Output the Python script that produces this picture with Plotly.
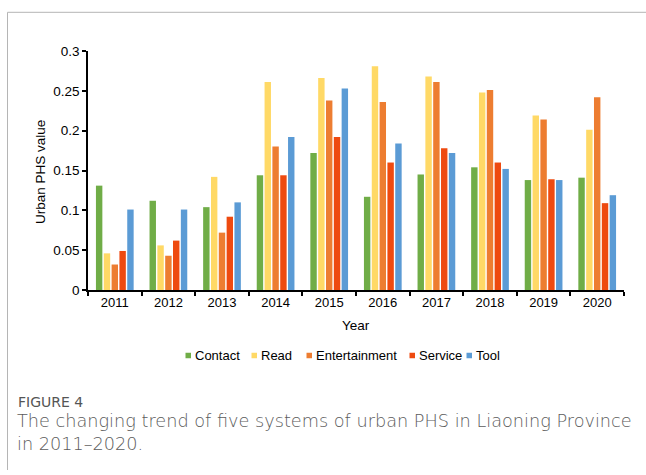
import plotly.graph_objects as go

# Years on the category axis
years = ["2011", "2012", "2013", "2014", "2015", "2016", "2017", "2018", "2019", "2020"]

# Urban PHS value of each system, per year
contact = [0.131, 0.112, 0.104, 0.144, 0.172, 0.117, 0.145, 0.154, 0.138, 0.141]
read = [0.046, 0.056, 0.142, 0.261, 0.266, 0.281, 0.268, 0.248, 0.219, 0.201]
entertainment = [0.032, 0.043, 0.072, 0.180, 0.238, 0.236, 0.261, 0.251, 0.214, 0.242]
service = [0.049, 0.062, 0.092, 0.144, 0.192, 0.160, 0.178, 0.160, 0.139, 0.109]
tool = [0.101, 0.101, 0.110, 0.192, 0.253, 0.184, 0.172, 0.152, 0.138, 0.119]

series_names = ["Contact", "Read", "Entertainment", "Service", "Tool"]
series_values = [contact, read, entertainment, service, tool]
series_colors = ["#70AD47", "#FFD966", "#ED7D31", "#EE4A10", "#5B9BD5"]

W, H = 646, 475
L, R, T, B = 88, 624, 51, 290


def px(x):
    return (x - L) / (R - L)


def py(y):
    return (B - y) / (B - T)


fig = go.Figure()
for name, vals, col in zip(series_names, series_values, series_colors):
    fig.add_trace(go.Bar(x=years, y=vals, name=name, marker_color=col,
                         marker_line_width=0, showlegend=False))

font_main = "Liberation Sans, Arial, sans-serif"
font_caption = "DejaVu Sans, Open Sans, sans-serif"
annotations = []
shapes = []

# Axis titles
annotations.append(dict(text="Urban PHS value", x=px(40), y=py(172), xref="paper", yref="paper",
                        textangle=-90, showarrow=False, xanchor="center", yanchor="middle",
                        font=dict(family=font_main, size=13.5, color="#000")))
annotations.append(dict(text="Year", x=px(356), y=py(325), xref="paper", yref="paper",
                        showarrow=False, xanchor="center", yanchor="middle",
                        font=dict(family=font_main, size=13.5, color="#000")))

# Legend: small squares followed by labels
legend_sq_x = [185.5, 251.5, 306.5, 409.5, 466.5]
leg_y = 355.5
for name, col, sx in zip(series_names, series_colors, legend_sq_x):
    shapes.append(dict(type="rect", xref="paper", yref="paper",
                       x0=px(sx), x1=px(sx + 5.5), y0=py(leg_y + 2.75), y1=py(leg_y - 2.75),
                       fillcolor=col, line=dict(width=0)))
    annotations.append(dict(text=name, x=px(sx + 7), y=py(leg_y), xref="paper", yref="paper",
                            showarrow=False, xanchor="left", yanchor="middle",
                            font=dict(family=font_main, size=13, color="#000")))

# Caption below the chart
annotations.append(dict(text="FIGURE 4", x=px(17), y=py(402), xref="paper", yref="paper",
                        showarrow=False, xanchor="left", yanchor="middle", borderpad=0,
                        font=dict(family=font_caption, size=14, color="#555555", weight=400)))
annotations.append(dict(text="The changing trend of five systems of urban PHS in Liaoning Province"
                             "<br>in 2011\u20132020.",
                        x=px(16), y=py(433), xref="paper", yref="paper", align="left",
                        showarrow=False, xanchor="left", yanchor="middle", borderpad=0,
                        font=dict(family=font_caption, size=17.7, color="#5c5c5c", weight=300)))

# Thin frame: top rule and left rule
shapes.append(dict(type="line", xref="paper", yref="paper", x0=px(7.5), x1=px(646),
                   y0=py(12.3), y1=py(12.3), line=dict(color="#b5b5b5", width=1)))
shapes.append(dict(type="line", xref="paper", yref="paper", x0=px(7.5), x1=px(7.5),
                   y0=py(12.3), y1=py(470), line=dict(color="#b5b5b5", width=1)))

fig.update_layout(
    width=W, height=H,
    margin=dict(l=L, r=W - R, t=T, b=H - B, pad=0),
    paper_bgcolor="white", plot_bgcolor="white",
    barmode="group", bargap=0.27, bargroupgap=0.18,
    font=dict(family=font_main, size=13, color="#000"),
    annotations=annotations, shapes=shapes,
    xaxis=dict(type="category", tickson="boundaries", ticks="outside", ticklen=4,
               tickwidth=1.5, tickcolor="#000", showline=True, linecolor="#000",
               linewidth=1.5, showgrid=False, tickfont=dict(size=13)),
    yaxis=dict(range=[0, 0.3], dtick=0.05, ticks="outside", ticklen=4, tickwidth=1.5,
               tickcolor="#000", showline=True, linecolor="#000", linewidth=1.5,
               showgrid=False, zeroline=False, tickfont=dict(size=13.5)),
)

fig.write_html("out.html")
